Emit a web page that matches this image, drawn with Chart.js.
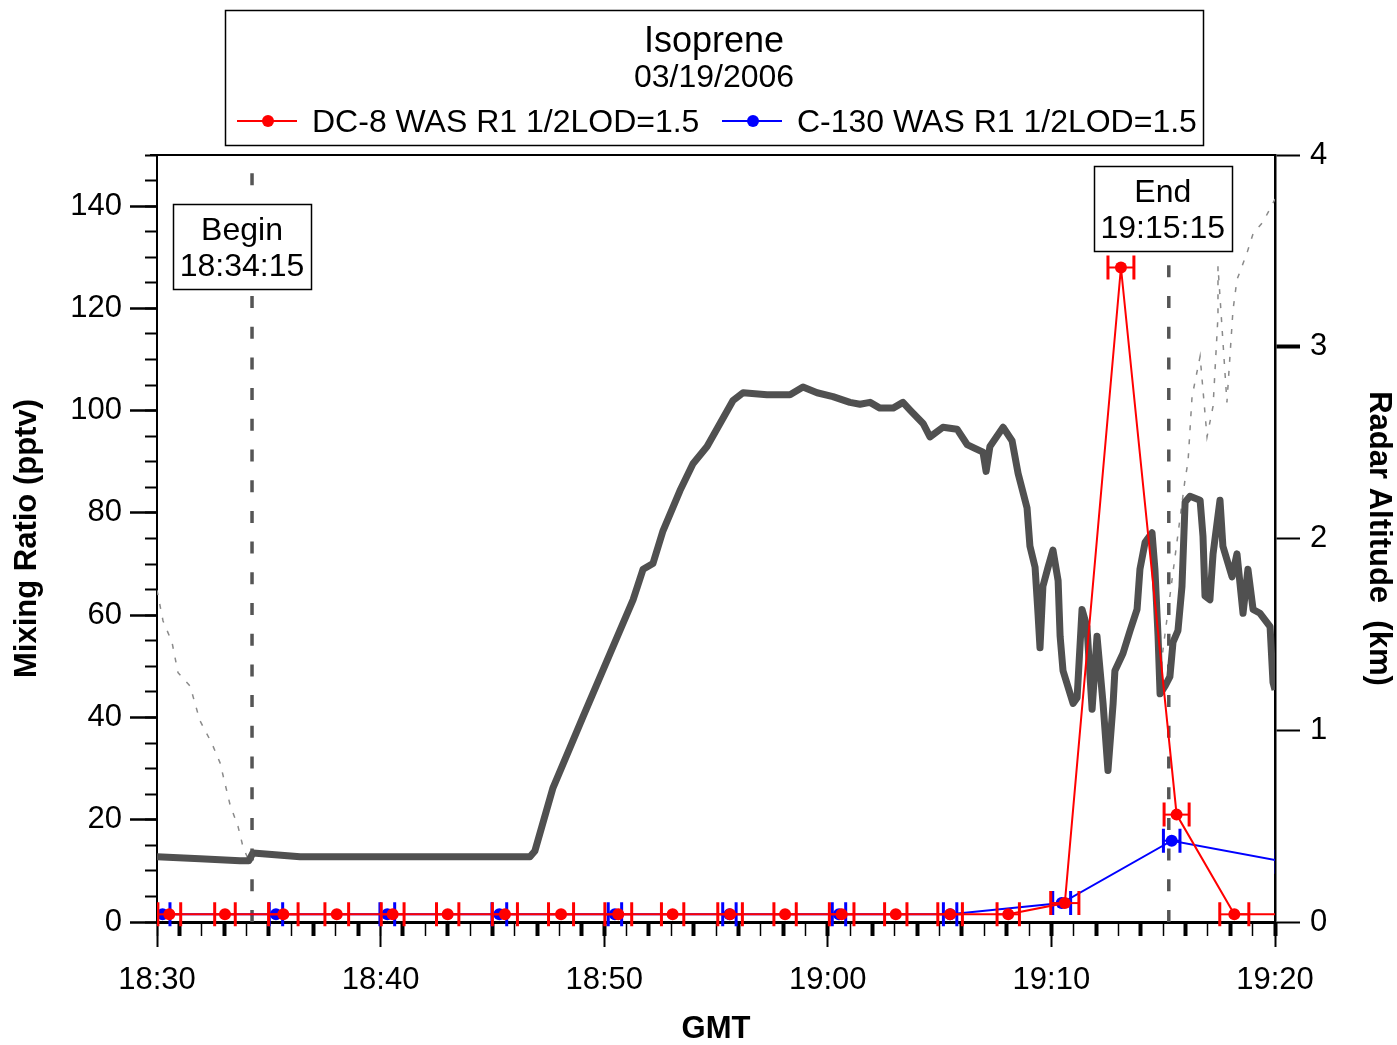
<!DOCTYPE html>
<html><head><meta charset="utf-8">
<script src="https://cdn.jsdelivr.net/npm/chart.js@4/dist/chart.umd.min.js"></script>
<style>html,body{margin:0;padding:0;background:#fff;}canvas{display:block;}</style>
</head><body>
<canvas id="c" width="1397" height="1045"></canvas>
<script>
// ---------------- data ----------------
const chartTitle = 'Isoprene';
const chartDate = '03/19/2006';
const seriesNames = ['DC-8 WAS R1 1/2LOD=1.5', 'C-130 WAS R1 1/2LOD=1.5'];
const timeLabels = ['18:30', '18:40', '18:50', '19:00', '19:10', '19:20']; // x = minutes after 18:30
const leftAxisTitle = 'Mixing Ratio (pptv)';
const rightAxisTitle = 'Radar Altitude  (km)';
const bottomAxisTitle = 'GMT';

// DC-8 whole air samples (minutes after 18:30, pptv, half sample duration in minutes)
const dc8Time = [0.55, 3.04, 5.65, 8.04, 10.54, 13.0, 15.56, 18.07, 20.63, 23.06, 25.63, 28.09, 30.62, 33.04, 35.47, 38.07, 40.6, 43.11, 45.6, 48.18, 50.7];
const dc8Isoprene = [1.5, 1.5, 1.5, 1.5, 1.5, 1.5, 1.5, 1.5, 1.5, 1.5, 1.5, 1.5, 1.5, 1.5, 1.5, 1.5, 3.7, 128, 21, 1.5, 1.5];
const dc8HalfWidth = [0.51, 0.46, 0.66, 0.53, 0.51, 0.5, 0.56, 0.56, 0.6, 0.5, 0.55, 0.5, 0.55, 0.5, 0.55, 0.5, 0.63, 0.58, 0.56, 0.65, 0.6];

// C-130 whole air samples
const c130Time = [0.25, 5.32, 10.3, 15.31, 20.48, 25.6, 30.5, 35.47, 40.46, 45.38, 50.4];
const c130Isoprene = [1.5, 1.5, 1.5, 1.5, 1.5, 1.5, 1.5, 1.5, 3.7, 15.9, 11.8];
const c130HalfWidth = [0.33, 0.3, 0.33, 0.33, 0.3, 0.3, 0.3, 0.3, 0.4, 0.37, 0.35];

// DC-8 radar altitude (km)
const altTime = [0, 1.92, 3.71, 4.11, 4.29, 6.4, 10.87, 14.45, 16.68, 16.9, 17.71, 19.05, 20.26, 21.29, 21.74, 22.18, 22.63, 23.39, 23.97, 24.6, 25.18, 25.76, 26.21, 27.28, 28.31, 28.89, 29.52, 30.23, 30.99, 31.44, 31.89, 32.33, 32.92, 33.36, 33.68, 34.26, 34.57, 35.15, 35.78, 36.23, 36.58, 36.94, 37.08, 37.25, 37.84, 38.24, 38.51, 38.91, 39.04, 39.27, 39.4, 39.49, 39.62, 39.85, 40.07, 40.3, 40.39, 40.52, 40.97, 41.15, 41.37, 41.59, 41.82, 42.04, 42.31, 42.53, 42.76, 42.84, 43.2, 43.52, 43.83, 43.96, 44.19, 44.5, 44.63, 44.77, 44.86, 45.08, 45.3, 45.44, 45.66, 45.84, 45.98, 46.2, 46.65, 46.78, 46.87, 47.09, 47.23, 47.54, 47.67, 48.08, 48.3, 48.57, 48.79, 49.02, 49.33, 49.78, 49.91, 50];
const altKm = [0.34, 0.33, 0.32, 0.32, 0.36, 0.34, 0.34, 0.34, 0.34, 0.37, 0.70, 1.07, 1.40, 1.68, 1.84, 1.87, 2.04, 2.25, 2.39, 2.48, 2.60, 2.72, 2.76, 2.75, 2.75, 2.79, 2.76, 2.74, 2.71, 2.70, 2.71, 2.68, 2.68, 2.71, 2.67, 2.60, 2.53, 2.58, 2.57, 2.49, 2.47, 2.45, 2.35, 2.48, 2.58, 2.51, 2.34, 2.16, 1.96, 1.85, 1.61, 1.43, 1.75, 1.85, 1.94, 1.78, 1.49, 1.31, 1.14, 1.17, 1.63, 1.54, 1.11, 1.49, 1.14, 0.79, 1.14, 1.31, 1.40, 1.52, 1.63, 1.84, 1.98, 2.03, 1.84, 1.49, 1.19, 1.23, 1.28, 1.46, 1.52, 1.75, 2.19, 2.22, 2.20, 2.01, 1.70, 1.68, 1.92, 2.20, 1.96, 1.80, 1.92, 1.61, 1.84, 1.63, 1.61, 1.54, 1.25, 1.21];

// second (thin, dashed) altitude trace (km); null = not visible
const alt2Time = [0, 0.27, 0.67, 0.94, 1.48, 1.92, 2.46, 2.82, 3.27, 3.62, 3.85, 4.07, 20, 44.86, 44.99, 45.98, 46.11, 46.29, 46.65, 46.96, 47.23, 47.45, 47.45, 47.85, 48.12, 48.3, 48.75, 49.02, 49.46, 49.87, 50];
const alt2Km = [1.73, 1.57, 1.46, 1.30, 1.23, 1.05, 0.93, 0.83, 0.61, 0.50, 0.39, 0.33, null, 1.26, 1.42, 2.31, 2.40, 2.74, 2.95, 2.53, 2.69, 3.16, 3.42, 2.71, 3.19, 3.35, 3.49, 3.59, 3.65, 3.74, 3.77];

// Begin / End markers
const markerTime = [4.25, 45.25];
const markerTitle = ['Begin', 'End'];
const markerLabel = ['18:34:15', '19:15:15'];

// ---------------- style ----------------
const F = "'Liberation Sans', Arial, Helvetica, sans-serif";
const style = {
  boxDx: [-10, -6], boxTop: [204, 166], boxW: 138, boxH: 85,
  header: {x0: 225.5, y0: 10.5, w: 978, h: 135, cx: 714},
  legendLineX: [237, 722], legendTextX: [312, 797], legendY: 121
};

const pts = (xs, ys) => xs.map((x, i) => ({x: x, y: ys[i]}));

const errorBars = {
  id: 'errorBars',
  beforeDatasetDraw(chart, args) {
    const ds = chart.data.datasets[args.index];
    if (!ds.halfWidth) return;
    const xs = chart.scales.x, ys = chart.scales[ds.yAxisID];
    const a = chart.chartArea, ctx = chart.ctx;
    ctx.save();
    ctx.beginPath(); ctx.rect(a.left, a.top, a.right - a.left, a.bottom - a.top + 12); ctx.clip();
    ctx.strokeStyle = ds.borderColor;
    ds.data.forEach((p, i) => {
      const hw = ds.halfWidth[i];
      const x0 = xs.getPixelForValue(p.x - hw), x1 = xs.getPixelForValue(p.x + hw), y = ys.getPixelForValue(p.y);
      ctx.lineWidth = 2;
      ctx.beginPath(); ctx.moveTo(x0, y); ctx.lineTo(x1, y); ctx.stroke();
      ctx.lineWidth = ds.capWidth;
      ctx.beginPath();
      ctx.moveTo(x0, y - 12); ctx.lineTo(x0, y + 12);
      ctx.moveTo(x1, y - 12); ctx.lineTo(x1, y + 12);
      ctx.stroke();
    });
    ctx.restore();
  }
};

const decorations = {
  id: 'decorations',
  afterDatasetsDraw(chart) {
    const ctx = chart.ctx, a = chart.chartArea;
    ctx.save();
    // top frame line
    ctx.strokeStyle = '#000'; ctx.lineWidth = 2;
    ctx.beginPath(); ctx.moveTo(a.left - 7, a.top); ctx.lineTo(a.right, a.top); ctx.stroke();
    // marker boxes
    ctx.textAlign = 'center'; ctx.textBaseline = 'alphabetic'; ctx.fillStyle = '#000';
    markerTime.forEach((t, i) => {
      const cx = chart.scales.x.getPixelForValue(t) + style.boxDx[i];
      const top = style.boxTop[i];
      const l = Math.round(cx - style.boxW / 2) + 0.5;
      ctx.fillStyle = '#fff'; ctx.fillRect(l, top + 0.5, style.boxW, style.boxH);
      ctx.strokeStyle = '#000'; ctx.lineWidth = 1.5; ctx.strokeRect(l, top + 0.5, style.boxW, style.boxH);
      ctx.fillStyle = '#000'; ctx.font = '32px ' + F;
      ctx.fillText(markerTitle[i], cx, top + 35.5);
      ctx.fillText(markerLabel[i], cx, top + 72);
    });
    ctx.restore();
  },
  afterDraw(chart) {
    const ctx = chart.ctx, h = style.header;
    ctx.save();
    ctx.strokeStyle = '#000'; ctx.lineWidth = 1.5;
    ctx.strokeRect(h.x0, h.y0, h.w, h.h);
    ctx.fillStyle = '#000'; ctx.textAlign = 'center'; ctx.textBaseline = 'alphabetic';
    ctx.font = '36px ' + F; ctx.fillText(chartTitle, h.cx, 52);
    ctx.font = '32px ' + F; ctx.fillText(chartDate, h.cx, 87);
    ctx.textAlign = 'left';
    [0, 1].forEach(i => {
      const ds = chart.data.datasets[i];
      const x0 = style.legendLineX[i], y = style.legendY;
      ctx.strokeStyle = ds.borderColor; ctx.lineWidth = 2;
      ctx.beginPath(); ctx.moveTo(x0, y); ctx.lineTo(x0 + 60, y); ctx.stroke();
      ctx.fillStyle = ds.borderColor;
      ctx.beginPath(); ctx.arc(x0 + 31, y, 6, 0, Math.PI * 2); ctx.fill();
      ctx.fillStyle = '#000'; ctx.font = '32px ' + F;
      ctx.fillText(seriesNames[i], style.legendTextX[i], y + 11);
    });
    ctx.restore();
  }
};

const tickFont = {family: F, size: 31};
const titleFont = {family: F, size: 31, weight: 'bold'};
const keepMultiples = step => s => { s.ticks = s.ticks.filter(t => Math.abs(t.value / step - Math.round(t.value / step)) < 1e-6); };

new Chart(document.getElementById('c'), {
  type: 'line',
  data: {
    datasets: [
      {label: seriesNames[0], data: pts(dc8Time, dc8Isoprene), yAxisID: 'y', borderColor: '#ff0000', backgroundColor: '#ff0000',
       borderWidth: 2, pointRadius: 6, pointBorderWidth: 0, tension: 0, halfWidth: dc8HalfWidth, capWidth: 3},
      {label: seriesNames[1], data: pts(c130Time, c130Isoprene), yAxisID: 'y', borderColor: '#0000ff', backgroundColor: '#0000ff',
       borderWidth: 2, pointRadius: 6, pointBorderWidth: 0, tension: 0, halfWidth: c130HalfWidth, capWidth: 3},
      {label: markerTitle[1], data: [{x: markerTime[1], y: 0}, {x: markerTime[1], y: 150}], yAxisID: 'y', borderColor: '#555555',
       borderWidth: 3.5, borderDash: [12, 18.7], pointRadius: 0},
      {label: markerTitle[0], data: [{x: markerTime[0], y: 0}, {x: markerTime[0], y: 150}], yAxisID: 'y', borderColor: '#555555',
       borderWidth: 3.5, borderDash: [12, 18.7], pointRadius: 0},
      {label: 'Radar altitude', data: pts(altTime, altKm), yAxisID: 'yR', borderColor: '#505050', borderWidth: 7,
       pointRadius: 0, tension: 0, borderJoinStyle: 'round'},
      {label: 'Radar altitude 2', data: pts(alt2Time, alt2Km), yAxisID: 'yR', borderColor: '#8a8a8a', borderWidth: 1.5,
       borderDash: [5, 9], pointRadius: 0, tension: 0, spanGaps: false}
    ]
  },
  options: {
    responsive: false, animation: false, devicePixelRatio: 1, events: [],
    layout: {padding: {top: 155, left: 0, right: 0, bottom: 0}},
    plugins: {legend: {display: false}, tooltip: {enabled: false}, title: {display: false}},
    scales: {
      x: {
        type: 'linear', min: 0, max: 50, position: 'bottom', bounds: 'data',
        afterBuildTicks: keepMultiples(10),
        ticks: {stepSize: 10, autoSkip: false, maxRotation: 0, includeBounds: false, color: '#000', font: tickFont, padding: 15,
                callback: v => timeLabels[Math.round(v / 10)]},
        grid: {drawOnChartArea: false, tickLength: 25, tickWidth: 2, tickColor: '#000'},
        border: {display: true, color: '#000', width: 3},
        title: {display: true, text: bottomAxisTitle, color: '#000', font: {family: F, size: 31, weight: 'bold', lineHeight: 1}, padding: {top: 0, bottom: 0}},
        afterFit(s) { s.height = 123; }
      },
      xMinor: {
        type: 'linear', axis: 'x', min: 0, max: 50, position: {y: 0}, bounds: 'data',
        ticks: {stepSize: 1, display: false, autoSkip: false, includeBounds: false},
        grid: {drawOnChartArea: false, tickLength: 14, tickColor: '#000',
               tickWidth: c => { const v = Math.round(c.tick.value); return (v < 20 ? v % 2 === 1 : v % 2 === 0) ? 4 : 1.5; }},
        border: {display: false}
      },
      y: {
        type: 'linear', min: 0, max: 150, position: 'left', bounds: 'data',
        afterBuildTicks: keepMultiples(20),
        ticks: {stepSize: 20, includeBounds: false, color: '#000', font: tickFont, padding: 8},
        grid: {drawOnChartArea: false, tickLength: 27, tickWidth: 2.5, tickColor: '#000'},
        border: {display: true, color: '#000', width: 2},
        title: {display: true, text: leftAxisTitle, color: '#000', font: titleFont, padding: {top: 9, bottom: 0}},
        afterFit(s) { s.width = 157; }
      },
      yMinor: {
        type: 'linear', axis: 'y', min: 0, max: 150, position: {x: 0}, bounds: 'data',
        ticks: {stepSize: 5, display: false, includeBounds: false},
        grid: {drawOnChartArea: false, tickLength: 12, tickWidth: 2, tickColor: '#000'},
        border: {display: false}
      },
      yR: {
        type: 'linear', min: 0, max: 4, position: 'right', bounds: 'data',
        ticks: {stepSize: 1, includeBounds: false, color: '#000', font: tickFont, padding: 10},
        grid: {drawOnChartArea: false, tickLength: 25, tickColor: '#000', tickWidth: c => c.tick.value === 3 ? 4 : 2},
        border: {display: true, color: '#000', width: 2.5},
        title: {display: true, text: rightAxisTitle, color: '#000', font: titleFont, padding: {top: 0, bottom: 0}},
        afterFit(s) { s.width = 122; }
      }
    }
  },
  plugins: [errorBars, decorations]
});
</script>
</body></html>
